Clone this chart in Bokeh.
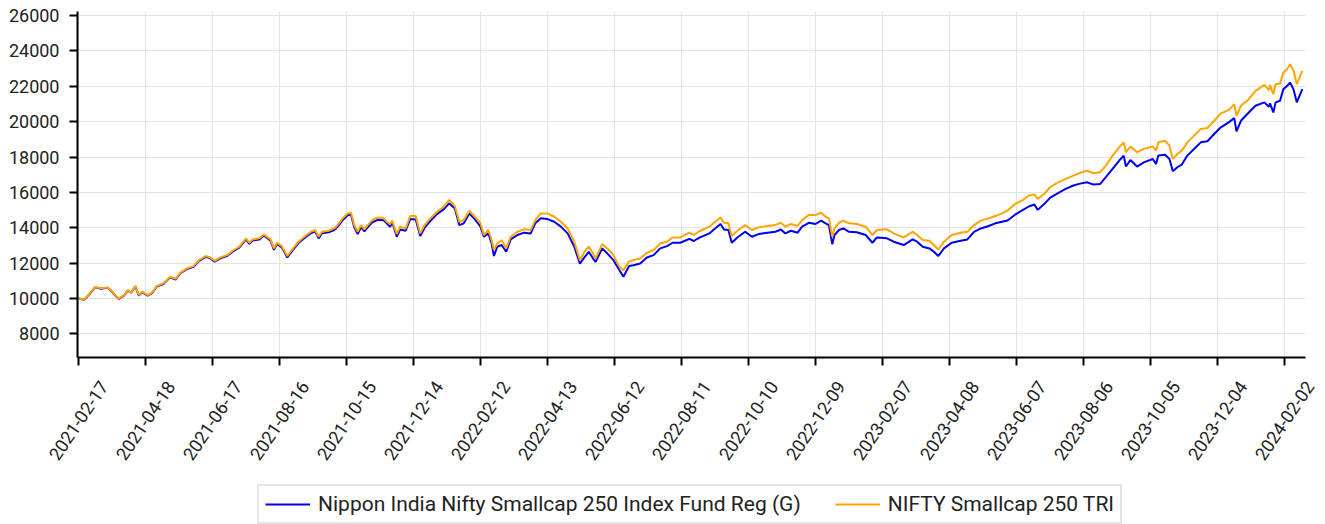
import math
import pandas as pd
from bokeh.plotting import figure
from bokeh.layouts import column
from bokeh.models import (Range1d, FixedTicker, Legend, LegendItem,
                          CustomJSTickFormatter, ColumnDataSource)
from bokeh.core.properties import value
from bokeh.embed import file_html
from bokeh.resources import INLINE

# ---------------- data ----------------
start_date = "2021-02-17"
series_names = ["Nippon India Nifty Smallcap 250 Index Fund Reg (G)",
                "NIFTY Smallcap 250 TRI"]

day_offsets = [
    0, 5, 9, 15, 20, 26, 29, 32, 36, 41, 44, 47, 51, 54, 57, 62, 66, 70, 76, 82,
    87, 91, 97, 103, 108, 114, 118, 122, 127, 133, 139, 144, 150, 153, 156, 162,
    166, 172, 175, 178, 182, 187, 191, 197, 203, 208, 212, 215, 218, 224, 229,
    232, 236, 241, 244, 247, 250, 253, 256, 259, 263, 268, 273, 276, 279, 281,
    285, 288, 293, 297, 302, 306, 310, 315, 321, 327, 332, 337, 341, 345, 350,
    355, 360, 363, 367, 370, 372, 375, 379, 383, 387, 393, 399, 405, 409, 414,
    420, 426, 432, 438, 444, 449, 453, 457, 460, 463, 469, 475, 479, 484, 488,
    493, 497, 503, 509, 515, 521, 527, 532, 539, 547, 551, 556, 565, 569, 575,
    578, 582, 585, 590, 597, 603, 609, 617, 624, 629, 633, 638, 644, 648, 654,
    660, 665, 669, 672, 675, 677, 681, 685, 690, 697, 705, 711, 715, 724, 730,
    739, 747, 751, 756, 762, 766, 770, 775, 782, 790, 796, 802, 808, 815, 821,
    827, 832, 839, 845, 851, 856, 859, 865, 870, 876, 884, 891, 896, 903, 909,
    915, 920, 926, 932, 936, 938, 942, 948, 954, 962, 965, 967, 973, 977, 980,
    984, 988, 993, 999, 1005, 1011, 1017, 1023, 1030, 1035, 1037, 1041, 1048,
    1054, 1062, 1066, 1067, 1070, 1072, 1076, 1079, 1082, 1085, 1088, 1091, 1096,
]

index_values = [
    10000, 9940, 10190, 10660, 10570, 10620, 10470, 10245, 10000, 10190, 10470,
    10340, 10700, 10190, 10380, 10190, 10340, 10700, 10850, 11230, 11110, 11450,
    11700, 11830, 12170, 12400, 12320, 12130, 12320, 12450, 12740, 12925, 13400,
    13150, 13340, 13400, 13620, 13340, 12830, 13150, 12960, 12400, 12740, 13210,
    13530, 13770, 13870, 13490, 13770, 13830, 13960, 14150, 14490, 14810, 14850,
    14150, 13770, 14150, 13910, 14150, 14430, 14580, 14560, 14340, 14200, 14400,
    13640, 14060, 13960, 14660, 14660, 13680, 14150, 14530, 14900, 15190, 15570,
    15230, 14340, 14430, 14960, 14620, 14250, 13590, 13870, 13300, 12740, 13110,
    13300, 12830, 13490, 13770, 13910, 13870, 14430, 14810, 14810, 14620, 14340,
    13960, 13210, 12150, 12640, 12925, 12640, 12260, 13070, 12740, 12450, 11830,
    11600, 12080, 12170, 12260, 12580, 12740, 13110, 13210, 13450, 13450, 13720,
    13590, 13800, 14060, 14280, 14580, 14280, 14250, 13530, 13830, 14150, 13870,
    14020, 14100, 14150, 14280, 14060, 14210, 14100, 14430, 14720, 14720, 14850,
    14620, 14530, 13490, 13960, 14280, 14400, 14250, 14210, 14060, 13590, 13870,
    13910, 13680, 13450, 13770, 13590, 13300, 13260, 13020, 12770, 13210, 13590,
    13720, 13770, 14150, 14400, 14530, 14660, 14810, 14976, 15350, 15540, 15820,
    15880, 15630, 15920, 16290, 16520, 16760, 16950, 17080, 17230, 17080, 17140,
    17510, 18080, 18550, 18830, 18270, 18590, 18270, 18460, 18590, 18360, 18830,
    18920, 18640, 17890, 18170, 18360, 18830, 19210, 19580, 19640, 20050, 20470,
    20650, 20990, 20330, 20900, 21270, 21740, 22080, 21780, 22080, 21550, 22120,
    22160, 22780, 22950, 23250, 22910, 22120, 22870,
]

fund_values = [
    10000, 9930, 10180, 10640, 10550, 10600, 10450, 10225, 9980, 10170, 10450,
    10320, 10680, 10160, 10350, 10160, 10310, 10670, 10820, 11190, 11070, 11410,
    11660, 11790, 12130, 12350, 12270, 12080, 12270, 12400, 12690, 12870, 13340,
    13090, 13280, 13340, 13560, 13270, 12750, 13080, 12890, 12320, 12660, 13130,
    13450, 13690, 13790, 13400, 13680, 13740, 13870, 14050, 14390, 14700, 14740,
    14030, 13640, 14030, 13790, 14030, 14300, 14450, 14430, 14250, 14050, 14300,
    13490, 13900, 13830, 14490, 14470, 13530, 14000, 14380, 14770, 15040, 15380,
    15090, 14150, 14250, 14810, 14470, 14060, 13490, 13680, 13110, 12400, 12925,
    13020, 12640, 13340, 13590, 13720, 13680, 14250, 14530, 14490, 14340, 14060,
    13680, 12925, 11960, 12320, 12640, 12340, 12060, 12830, 12450, 12170, 11640,
    11230, 11830, 11880, 11980, 12320, 12450, 12830, 12960, 13150, 13150, 13370,
    13250, 13440, 13680, 13900, 14210, 13900, 13870, 13150, 13450, 13770, 13490,
    13640, 13720, 13770, 13900, 13680, 13830, 13720, 14060, 14280, 14210, 14400,
    14250, 14150, 13070, 13590, 13870, 13960, 13770, 13740, 13590, 13150, 13450,
    13400, 13210, 13020, 13340, 13210, 12925, 12830, 12640, 12400, 12830, 13150,
    13260, 13340, 13770, 13960, 14100, 14250, 14340, 14410, 14750, 14976, 15200,
    15310, 15010, 15350, 15690, 15920, 16200, 16390, 16480, 16570, 16440, 16480,
    16860, 17330, 17800, 18080, 17460, 17830, 17460, 17700, 17890, 17610, 18080,
    18130, 17890, 17190, 17420, 17570, 18080, 18450, 18830, 18890, 19300, 19680,
    19960, 20200, 19450, 20050, 20520, 20900, 21090, 20840, 21030, 20520, 21090,
    21180, 21840, 22000, 22210, 21840, 21090, 21840,
]

tick_labels = [
    "2021-02-17", "2021-04-18", "2021-06-17", "2021-08-16", "2021-10-15",
    "2021-12-14", "2022-02-12", "2022-04-13", "2022-06-12", "2022-08-11",
    "2022-10-10", "2022-12-09", "2023-02-07", "2023-04-08", "2023-06-07",
    "2023-08-06", "2023-10-05", "2023-12-04", "2024-02-02",
]
y_ticks = [8000, 10000, 12000, 14000, 16000, 18000, 20000, 22000, 24000, 26000]

# ---------------- build ----------------
t0 = pd.Timestamp(start_date)
dates = [t0 + pd.Timedelta(days=d) for d in day_offsets]
src = ColumnDataSource(dict(date=dates, fund=fund_values, index=index_values))


def ms(ts):
    return pd.Timestamp(ts).timestamp() * 1000.0


FONT = "Roboto"
TXT = "#222222"
W = 1325
TOP_H = 369
BOT_H = 524 - TOP_H
LEFT, RIGHT = 77, 20
FRAME_W = W - LEFT - RIGHT

day_ms = 86400000.0
x_start = ms(t0) - 0.9 * day_ms
x_end = ms(t0) + 1098.8 * day_ms
x_range = Range1d(x_start, x_end)
y_start, y_end = 6660, 26230

# main chart
p = figure(width=W, height=TOP_H, x_axis_type="datetime",
           x_range=x_range, y_range=Range1d(y_start, y_end),
           output_backend="svg", toolbar_location=None,
           min_border_left=LEFT, min_border_right=RIGHT, min_border_top=11,
           min_border_bottom=12)
p.frame_align = False
p.outline_line_color = None
p.background_fill_color = "white"
p.border_fill_color = "white"

tick_ms = [ms(t) for t in tick_labels]
p.xaxis.ticker = FixedTicker(ticks=tick_ms)
p.xaxis.formatter = CustomJSTickFormatter(code="return ''")
p.yaxis.ticker = FixedTicker(ticks=y_ticks)

for ax in (p.xaxis[0], p.yaxis[0]):
    ax.axis_line_color = "black"
    ax.axis_line_width = 2
    ax.major_tick_line_color = "black"
    ax.major_tick_line_width = 2
    ax.major_tick_out = 8
    ax.major_tick_in = 0
    ax.minor_tick_line_color = None
    ax.major_label_text_font = FONT
    ax.major_label_text_color = TXT
p.yaxis.major_label_text_font_size = "18px"
p.yaxis.major_label_standoff = 10
p.xaxis.major_label_text_font_size = "0px"
p.xaxis.major_label_standoff = 0

p.xgrid.grid_line_color = "#e3e3e3"
p.ygrid.grid_line_color = "#e3e3e3"

r_fund = p.line("date", "fund", source=src, color="#0000ee", line_width=2)
r_idx = p.line("date", "index", source=src, color="#ffa500", line_width=2)

# lower strip spanning the full width, same horizontal date scale
mpp = (x_end - x_start) / FRAME_W
q_range = Range1d(x_start - LEFT * mpp, x_end + RIGHT * mpp)
q = figure(width=W, height=BOT_H, x_range=q_range, y_range=Range1d(0, BOT_H),
           output_backend="svg", toolbar_location=None,
           x_axis_location=None, y_axis_location=None,
           min_border_left=0, min_border_right=0, min_border_top=0,
           min_border_bottom=0)
q.frame_align = False
q.outline_line_color = None
q.background_fill_color = "white"
q.border_fill_color = "white"
q.xgrid.visible = False
q.ygrid.visible = False

lab_src = ColumnDataSource(dict(x=tick_ms, y=[524 - 420] * len(tick_ms),
                                text=tick_labels))
q.text("x", "y", text="text", source=lab_src, angle=math.radians(56),
       text_align="center", text_baseline="middle",
       text_font=value(FONT), text_font_size=value("18px"), text_color=TXT)

# legend proxies (placed below the visible strip)
g_fund = q.line([q_range.start, q_range.start], [-50, -50], color="#0000ee", line_width=2)
g_idx = q.line([q_range.start, q_range.start], [-50, -50], color="#ffa500", line_width=2)

legend = Legend(items=[LegendItem(label=series_names[0], renderers=[g_fund]),
                       LegendItem(label=series_names[1], renderers=[g_idx])],
                orientation="horizontal", location=(257, 0),
                label_text_font=FONT, label_text_font_size="21px",
                label_text_color=TXT, glyph_width=45, glyph_height=20,
                label_standoff=8, spacing=34, padding=6, margin=0,
                border_line_color="#cccccc", border_line_width=2,
                background_fill_color="white", background_fill_alpha=1)
q.add_layout(legend)

layout = column(p, q, spacing=0)
open("out.html", "w").write(file_html(layout, INLINE))
